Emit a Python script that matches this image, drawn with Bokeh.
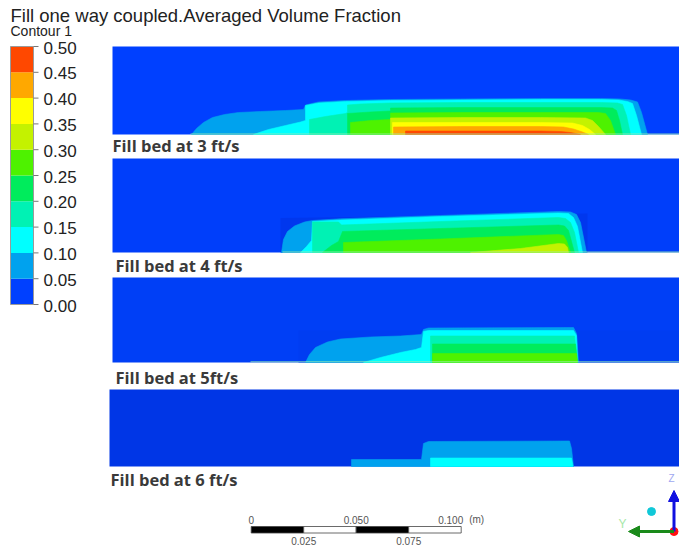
from bokeh.plotting import figure
from bokeh.models import Range1d, ColumnDataSource, Arrow, NormalHead
from bokeh.core.properties import value
from bokeh.embed import file_html
from bokeh.resources import INLINE

W, H = 679, 548

# ---------------- data ----------------
title_text = "Fill one way coupled.Averaged Volume Fraction"
subtitle_text = "Contour 1"

levels = [0.00, 0.05, 0.10, 0.15, 0.20, 0.25, 0.30, 0.35, 0.40, 0.45, 0.50]
level_labels = ["0.00", "0.05", "0.10", "0.15", "0.20", "0.25", "0.30", "0.35", "0.40", "0.45", "0.50"]
band_colors = ["#0040FF", "#00A2EE", "#00FFFF", "#00F2B4", "#00EC5C",
               "#4EF200", "#C4F200", "#FFFF00", "#FFA800", "#FF4800"]

panel_titles = ["Fill bed at 3 ft/s", "Fill bed at 4 ft/s", "Fill bed at 5ft/s", "Fill bed at 6 ft/s"]
panel_bg = ["#0040FF", "#003EFA", "#003FF6", "#0036E6"]

# contour regions (value >= level) for each panel, as outlines
p1_level = [1, 2, 3, 4, 5, 6, 7, 8, 9]
p1_xs = [
    [191, 196, 203, 212, 224, 238, 260, 285, 303, 305, 318, 345, 390, 460, 540, 600, 620, 630, 637, 641, 647],
    [253, 268, 285, 300, 305, 305, 318, 345, 390, 460, 540, 600, 618, 627, 632, 636, 641],
    [309, 309, 325, 345, 347, 347, 360, 390, 460, 540, 600, 617, 622, 626, 630],
    [347, 347, 370, 390, 390, 460, 540, 600, 612, 616, 619, 622],
    [350, 350, 370, 390, 390, 460, 540, 598, 605, 610, 615],
    [390, 390, 460, 540, 585, 592, 598, 605],
    [392, 392, 460, 540, 572, 582, 589, 595],
    [393, 393, 460, 540, 563, 573, 582, 588],
    [405, 405, 460, 540, 560, 570, 580],
]
p1_ys = [
    [134, 128, 122, 117, 114, 112, 111, 110, 109, 104.5, 101.5, 100, 99, 98.5, 98, 98, 98.5, 99.5, 101.5, 112, 134],
    [134, 129, 125, 121.5, 120, 105, 102.5, 101, 100, 99.5, 99, 99, 99.5, 101, 103, 115, 134],
    [134, 119, 116, 113, 112, 104.5, 103.5, 102.5, 102, 102, 102, 102.5, 104, 115, 134],
    [134, 113, 111.5, 110.5, 107.5, 107, 107, 107, 107.5, 110, 120, 134],
    [134, 122, 120, 119, 112.5, 112, 112, 112, 113, 120, 134],
    [134, 117.5, 117, 117, 117.5, 120, 126, 134],
    [134, 122, 122, 122, 122.5, 125, 129, 134],
    [134, 126.5, 126, 126, 126.5, 128.5, 131.5, 134],
    [134, 130.5, 130.5, 130.5, 131, 132, 134],
]

p2_level = [1, 2, 3, 4, 5, 6]
p2_xs = [
    [281, 283, 287, 294, 304, 312, 340, 440, 558, 570, 576, 580, 586],
    [300, 306, 311, 312, 340, 440, 558, 568, 573, 577, 582],
    [312, 312, 338, 341, 440, 558, 565, 570, 574, 578],
    [322, 331, 338, 342, 440, 558, 564, 568, 574],
    [343, 343, 440, 558, 563, 566, 570],
    [470, 520, 558, 564, 567, 568],
]
p2_ys = [
    [252, 239, 231, 225.5, 221.5, 220, 218.3, 215, 211, 211.5, 214, 222, 252],
    [252, 246, 240, 221, 219.5, 216, 212.5, 213, 217, 226, 252],
    [252, 221.5, 221.5, 224.5, 221, 217, 218, 222, 232, 252],
    [252, 245, 241, 231, 228, 224.5, 225.5, 230, 252],
    [252, 242, 238.5, 234, 235, 240, 252],
    [252, 248, 243, 243.5, 247, 252],
]

p3_level = [1, 2, 3, 4, 5]
p3_xs = [
    [305, 309, 315, 327, 340, 370, 400, 421, 423, 428, 573, 576, 578],
    [363, 380, 400, 415, 421, 423, 428, 573, 576, 577],
    [430, 430, 574, 577],
    [432, 432, 575, 577],
    [432, 432, 576, 577],
]
p3_ys = [
    [362, 354, 347, 341.5, 338.5, 336.5, 335.5, 334, 329, 327.5, 327, 333, 362],
    [362, 357, 352, 349, 347, 331, 330, 330, 335, 362],
    [362, 335.5, 335.5, 362],
    [362, 343.5, 343.5, 362],
    [362, 353, 353, 362],
]

p4_level = [1, 2]
p4_xs = [
    [351, 351, 421, 423, 428, 569, 571, 573],
    [430, 430, 571, 572.5],
]
p4_ys = [
    [466, 459, 459, 443, 441, 440.5, 448, 466],
    [466, 457.5, 457.5, 466],
]

# slightly darker mesh-block outlines behind the beds (panels 2 and 3)
block_xs = [[280, 587, 587, 280], [298, 679, 679, 298]]
block_ys = [[252, 252, 213, 217.5], [362, 362, 330, 330]]
block_colors = ["#0037EE", "#003DF2"]

scale_ticks_m = [0.0, 0.025, 0.050, 0.075, 0.100]
scale_labels = ["0", "0.025", "0.050", "0.075", "0.100"]
scale_unit = "(m)"

# ---------------- layout ----------------
panel_left = [112, 112, 112, 109]
panel_top = [46, 158, 277, 389]
panel_bottom = [134, 252, 362, 466]
label_y = [145, 265, 377, 479]
label_x = [112, 115, 115, 110]

cb_left, cb_right, cb_top, cb_bottom = 10, 33, 46, 304
sb_x0, sb_px_per_m, sb_y0, sb_y1 = 250.7, 2100.0, 526, 532.5

p = figure(width=W, height=H, x_range=Range1d(0, W), y_range=Range1d(H, 0),
           output_backend="svg", toolbar_location=None, min_border=0)
p.axis.visible = False
p.grid.visible = False
p.outline_line_color = None
p.background_fill_color = "white"
p.border_fill_color = "white"

FONT = value("Liberation Sans")

# title
p.text(x=[10], y=[15], text=[title_text], text_font=FONT, text_font_size="18.5px",
       text_baseline="middle", text_color="#222222")
p.text(x=[10], y=[30], text=[subtitle_text], text_font=FONT, text_font_size="14px",
       text_baseline="middle", text_color="#222222")

# colour bar
def ypos(v):
    return cb_bottom - (v - levels[0]) / (levels[-1] - levels[0]) * (cb_bottom - cb_top)

p.quad(left=[cb_left] * 10, right=[cb_right] * 10,
       top=[ypos(v) for v in levels[1:]], bottom=[ypos(v) for v in levels[:-1]],
       fill_color=band_colors, line_color=None)
p.quad(left=[cb_left], right=[cb_right], top=[cb_top], bottom=[cb_bottom],
       fill_color=None, line_color="#9a9a9a", line_width=1)
p.segment(x0=[cb_right] * 11, x1=[cb_right + 5] * 11,
          y0=[ypos(v) for v in levels], y1=[ypos(v) for v in levels],
          line_color="#777777", line_width=1)
p.text(x=[43] * 11, y=[ypos(v) + 1 for v in levels], text=level_labels, text_font=FONT,
       text_font_size="17px", text_baseline="middle", text_color="#222222")

# panels
panels = [(p1_level, p1_xs, p1_ys), (p2_level, p2_xs, p2_ys),
          (p3_level, p3_xs, p3_ys), (p4_level, p4_xs, p4_ys)]
for i, (lv, xs, ys) in enumerate(panels):
    p.quad(left=[panel_left[i]], right=[W + 5], top=[panel_top[i]], bottom=[panel_bottom[i]],
           fill_color=panel_bg[i], line_color=None)
    if i in (1, 2):
        p.patch(x=block_xs[i - 1], y=block_ys[i - 1], fill_color=block_colors[i - 1], line_color=None)
    src = ColumnDataSource(dict(xs=xs, ys=ys, c=[band_colors[k] for k in lv]))
    p.patches(xs="xs", ys="ys", fill_color="c", line_color="c", line_width=0.6, source=src)
    p.text(x=[label_x[i]], y=[label_y[i]], text=[panel_titles[i]], text_font=value("Open Sans"),
           text_font_style="bold", text_font_size="16.5px", text_baseline="middle",
           text_color="#3a3a3a")

# thin bed lines at the bottom of panels
p.segment(x0=[190, 282, 250], x1=[W, W, W], y0=[133.5, 251.5, 361.3], y1=[133.5, 251.5, 361.3],
          line_color="#9CF0B0", line_width=1, line_alpha=0.8)

# scale bar
sx = [sb_x0 + t * sb_px_per_m for t in scale_ticks_m]
p.quad(left=sx[:-1], right=sx[1:], top=[sb_y0] * 4, bottom=[sb_y1] * 4,
       fill_color=["black", "white", "black", "white"], line_color="#444444", line_width=0.8)
p.text(x=[sx[0], sx[2]], y=[519] * 2, text=[scale_labels[0], scale_labels[2]],
       text_font=FONT, text_font_size="10px", text_align="center", text_baseline="middle",
       text_color="#555555")
p.text(x=[sx[4] + 2], y=[519], text=[scale_labels[4]], text_font=FONT, text_font_size="10px",
       text_align="right", text_baseline="middle", text_color="#555555")
p.text(x=[sx[4] + 8], y=[519], text=[scale_unit], text_font=FONT, text_font_size="10px",
       text_baseline="middle", text_color="#555555")
p.text(x=[sx[1], sx[3]], y=[540] * 2, text=[scale_labels[1], scale_labels[3]],
       text_font=FONT, text_font_size="10px", text_align="center", text_baseline="middle",
       text_color="#555555")

# axis triad
p.add_layout(Arrow(end=NormalHead(size=11, fill_color="#1010E0", line_color="#1010E0"),
                   x_start=673.5, y_start=531, x_end=673.5, y_end=490,
                   line_color="#1010E0", line_width=3))
p.add_layout(Arrow(end=NormalHead(size=11, fill_color="#1A8A1A", line_color="#1A8A1A"),
                   x_start=673.5, y_start=531, x_end=628, y_end=531,
                   line_color="#1A8A1A", line_width=3))
p.scatter(x=[673.5], y=[531], size=8, color="#FF1010")
p.scatter(x=[651], y=[511], size=8, color="#10C8D8")
p.text(x=[622], y=[523], text=["Y"], text_font=FONT, text_font_size="12px",
       text_align="center", text_baseline="middle", text_color="#A8E8A8")
p.text(x=[671], y=[478], text=["Z"], text_font=FONT, text_font_size="10px",
       text_align="center", text_baseline="middle", text_color="#A0A8F0")

open("out.html", "w").write(file_html(p, INLINE))
